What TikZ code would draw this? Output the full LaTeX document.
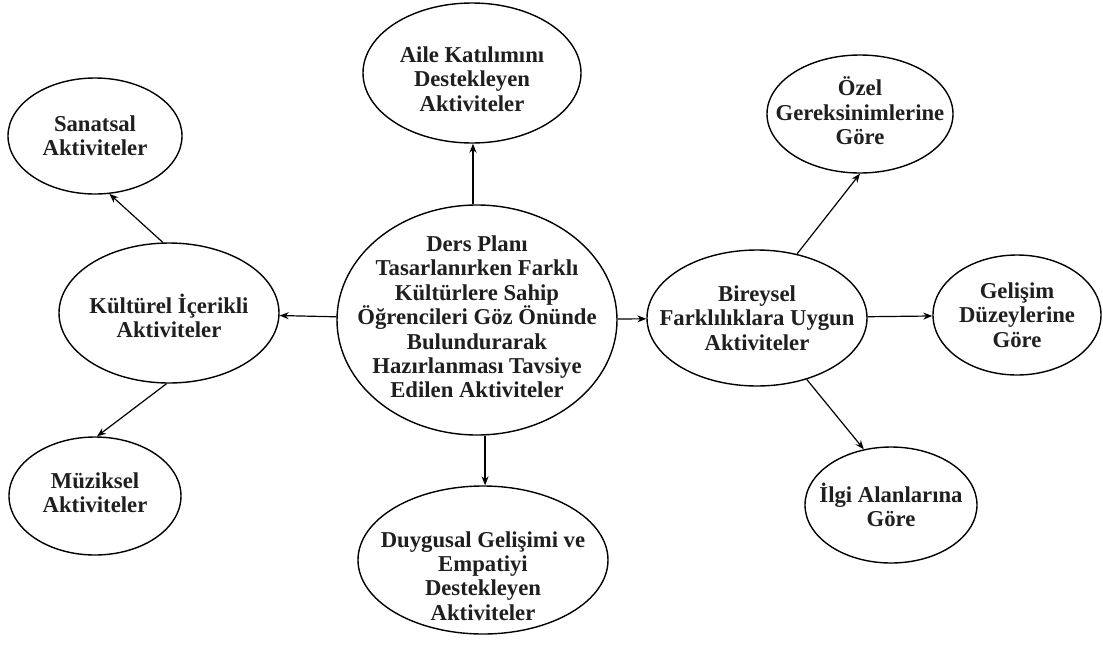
\documentclass[tikz,border=0pt]{standalone}
\usepackage{fontspec}
\setmainfont{Liberation Serif}
\newfontfamily\boldserif{Liberation Serif}[UprightFont={* Bold}]
\usetikzlibrary{shapes.geometric,arrows.meta}
\tikzset{
  bubble/.style={draw, ellipse, line width=1.4pt, inner sep=0pt},
  txt/.style={align=center, inner sep=0pt,
    font=\boldserif\fontsize{22.7}{24.4}\selectfont, text=black!88},
  arr/.style={line width=1.2pt, -{Stealth[length=9pt,width=7pt]}}
}
\begin{document}
\begin{tikzpicture}[x=1pt,y=-1pt]
\fill[white] (0,0) rectangle (1103,646);
\useasboundingbox (0,0) rectangle (1103,646);
\node[bubble, minimum width=280pt, minimum height=230pt,
  label={[txt, yshift=3pt]center:Ders Planı\\Tasarlanırken Farklı\\Kültürlere Sahip\\Öğrencileri Göz Önünde\\Bulundurarak\\Hazırlanması Tavsiye\\Edilen Aktiviteler}] (c) at (477,320) {};
\node[bubble, minimum width=218pt, minimum height=140pt,
  label={[txt, yshift=-6pt]center:Aile Katılımını\\Destekleyen\\Aktiviteler}] (aile) at (472,73) {};
\node[bubble, minimum width=174pt, minimum height=116pt,
  label={[txt]center:Sanatsal\\Aktiviteler}] (san) at (95,136) {};
\node[bubble, minimum width=220pt, minimum height=140pt,
  label={[txt, yshift=-3pt]center:Kültürel İçerikli\\Aktiviteler}] (kul) at (169,313) {};
\node[bubble, minimum width=172pt, minimum height=118pt,
  label={[txt, yshift=3pt]center:Müziksel\\Aktiviteler}] (muz) at (95,496) {};
\node[bubble, minimum width=250pt, minimum height=148pt,
  label={[txt, yshift=-16pt]center:Duygusal Gelişimi ve\\Empatiyi\\Destekleyen\\Aktiviteler}] (duy) at (483,560) {};
\node[bubble, minimum width=220pt, minimum height=136pt,
  label={[txt]center:Bireysel\\Farklılıklara Uygun\\Aktiviteler}] (bir) at (757,318) {};
\node[bubble, minimum width=186pt, minimum height=118pt,
  label={[txt, yshift=3pt]center:Özel\\Gereksinimlerine\\Göre}] (ozel) at (860,114) {};
\node[bubble, minimum width=168pt, minimum height=120pt,
  label={[txt]center:Gelişim\\Düzeylerine\\Göre}] (gel) at (1017,315) {};
\node[bubble, minimum width=172pt, minimum height=116pt,
  label={[txt]center:İlgi Alanlarına\\Göre}] (ilgi) at (891,505) {};
\draw[arr] (c.92) -- (c.92 |- aile.south);
\draw[arr] (c.-86) -- (c.-86 |- duy.north);
\draw[arr] (c) -- (kul);
\draw[arr] (c) -- (bir);
\draw[arr] (kul.95) -- (san.-76);
\draw[arr] (kul.-92) -- (muz.88);
\draw[arr] (bir.58) -- (ozel.south);
\draw[arr] (bir) -- (gel);
\draw[arr] (bir.-51) -- (ilgi.116);
\end{tikzpicture}
\end{document}
